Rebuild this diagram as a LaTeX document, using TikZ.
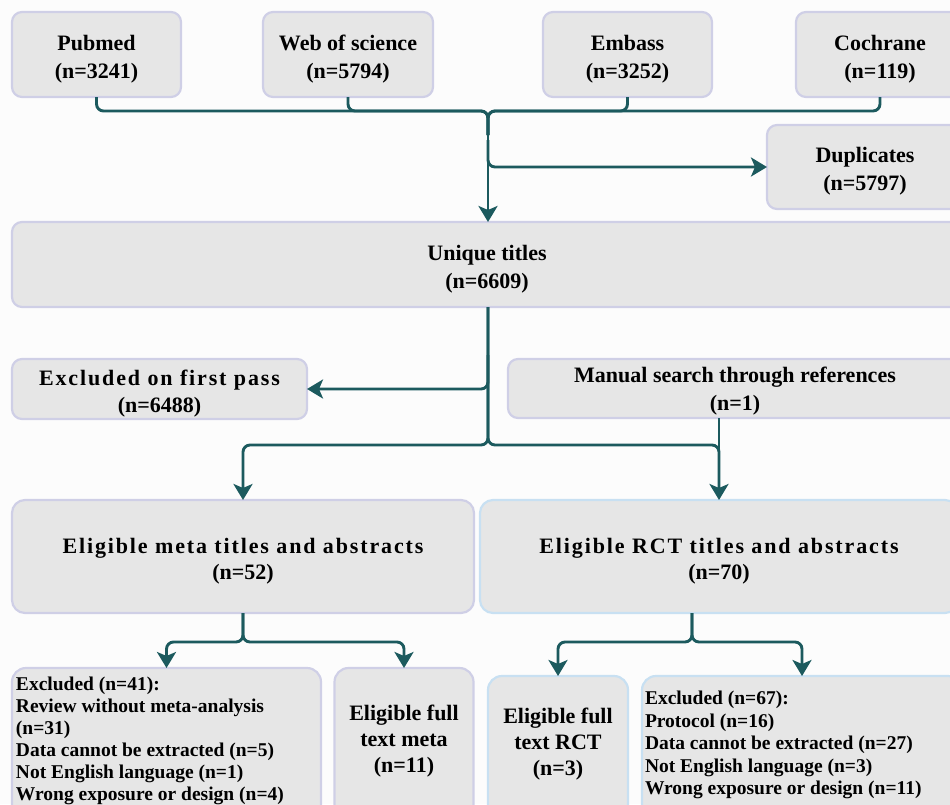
\documentclass[tikz,border=0pt]{standalone}
\usepackage{fontspec}
\setmainfont{Liberation Serif}
\usetikzlibrary{arrows.meta}
\definecolor{boxfill}{HTML}{E6E6E6}
\definecolor{boxline}{HTML}{CFCFE6}
\definecolor{rctline}{HTML}{C8E0F2}
\definecolor{flow}{HTML}{1C5A5E}
\definecolor{bgcol}{HTML}{FCFCFC}
\newcommand{\spacedtext}{\addfontfeatures{LetterSpace=8.5}}
\newcommand{\toppad}[1]{\rule{0pt}{#1}}
\begin{document}
\begin{tikzpicture}[x=1pt,y=-1pt,
  box/.style={draw=boxline, fill=boxfill, line width=2.2pt, rounded corners=10pt,
    inner sep=0pt, outer sep=0pt, align=center,
    font=\fontsize{22}{28}\selectfont\bfseries},
  rctbox/.style={box, draw=rctline},
  lowbox/.style={draw=boxline, fill=boxfill, line width=2.2pt, rounded corners=14pt,
    inner sep=0pt, outer sep=0pt},
  lowrct/.style={lowbox, draw=rctline},
  flowline/.style={draw=flow, line width=2.9pt, rounded corners=7pt},
  flowarrow/.style={flowline, -{Stealth[length=16pt,width=19pt,inset=4pt]}},
]
\fill[bgcol] (0,0) rectangle (950,804);
\useasboundingbox (0,0) rectangle (950,804);

% top sources
\node[box, minimum width=169pt, minimum height=85pt] (pub) at (96.5,54.5) {\toppad{25pt}Pubmed\\(n=3241)};
\node[box, minimum width=170pt, minimum height=85pt] (wos) at (348,54.5) {\toppad{25pt}Web of science\\(n=5794)};
\node[box, minimum width=169pt, minimum height=85pt] (emb) at (627.5,54.5) {\toppad{25pt}Embass\\(n=3252)};
\node[box, minimum width=168pt, minimum height=85pt] (coch) at (880,54.5) {\toppad{25pt}Cochrane\\(n=119)};
\node[box, minimum width=196pt, minimum height=84pt] (dup) at (865,167) {\toppad{23pt}Duplicates\\(n=5797)};
\node[box, minimum width=950pt, minimum height=85pt] (uniq) at (487,264.5) {\toppad{25pt}Unique titles\\(n=6609)};
\node[box, minimum width=295pt, minimum height=60pt, font=\fontsize{22}{27}\selectfont\bfseries] (excl1) at (159.5,389) {\toppad{25pt}{\spacedtext Excluded on first pass}\\(n=6488)};
\node[box, minimum width=454pt, minimum height=59pt] (manual) at (735,388.5) {\toppad{21pt}Manual search through references\\(n=1)};
\node[box, minimum width=462pt, minimum height=113pt, rounded corners=13pt, font=\fontsize{22}{26}\selectfont\bfseries] (meta) at (243,556.5) {\toppad{25pt}{\spacedtext Eligible meta titles and abstracts}\\(n=52)};
\node[rctbox, minimum width=478pt, minimum height=113pt, rounded corners=13pt, font=\fontsize{22}{26}\selectfont\bfseries] (rct) at (719,556.5) {\toppad{25pt}{\spacedtext Eligible RCT titles and abstracts}\\(n=70)};

% bottom boxes
\node[lowbox] (exclmeta) at (166.5,743) {\parbox[c][150pt][t]{309pt}{\fontsize{19.5}{22}\selectfont\bfseries\raggedright\leftskip=4pt\vspace*{8.5pt}Excluded (n=41):\\Review without meta-analysis\\(n=31)\\Data cannot be extracted (n=5)\\Not English language (n=1)\\Wrong exposure or design (n=4)}};
\node[lowbox] (fullmeta) at (404,743) {\parbox[c][150pt][t]{139pt}{\fontsize{22}{26}\selectfont\bfseries\centering\vspace*{37pt}Eligible full\\text meta\\(n=11)}};
\node[lowrct] (fullrct) at (558,747) {\parbox[c][142pt][t]{140pt}{\fontsize{22}{26}\selectfont\bfseries\centering\vspace*{32pt}Eligible full\\text RCT\\(n=3)}};
\node[lowrct] (exclrct) at (802,747) {\parbox[c][142pt][t]{320pt}{\fontsize{19.5}{22.5}\selectfont\bfseries\raggedright\leftskip=3pt\vspace*{15pt}Excluded (n=67):\\Protocol (n=16)\\Data cannot be extracted (n=27)\\Not English language (n=3)\\Wrong exposure or design (n=11)}};

% connectors: sources to unique titles
\coordinate (j1) at (488,111);
\draw[flowline] (pub.south) |- (j1) -- (488,135);
\draw[flowline] (wos.south) |- (j1) -- (488,135);
\draw[flowline] (emb.south) |- (j1) -- (488,135);
\draw[flowline] (coch.south) |- (j1) -- (488,135);
\draw[flowarrow] (488,128) -- (j1 |- uniq.north);
\draw[flowarrow] (488,140) |- (dup.west);

% unique titles to next stage
\coordinate (j2) at (488,445);
\draw[flowarrow] (488,355) |- (excl1.east);
\draw[flowarrow] (j1 |- uniq.south) -- (j2) -| (meta.north);
\draw[flowarrow] (j1 |- uniq.south) -- (j2) -| (rct.north);
\draw[flowline] (manual.south -| rct.north) -- (719,470);

% meta branch
\coordinate (j3) at (243,642);
\draw[flowarrow] (meta.south) -- (j3) -| (exclmeta.north);
\draw[flowarrow] (meta.south) -- (j3) -| (fullmeta.north);

% rct branch
\coordinate (j4) at (692,642);
\draw[flowarrow] (rct.south -| j4) -- (j4) -| (fullrct.north);
\draw[flowarrow] (rct.south -| j4) -- (j4) -| (exclrct.north);
\end{tikzpicture}
\end{document}
